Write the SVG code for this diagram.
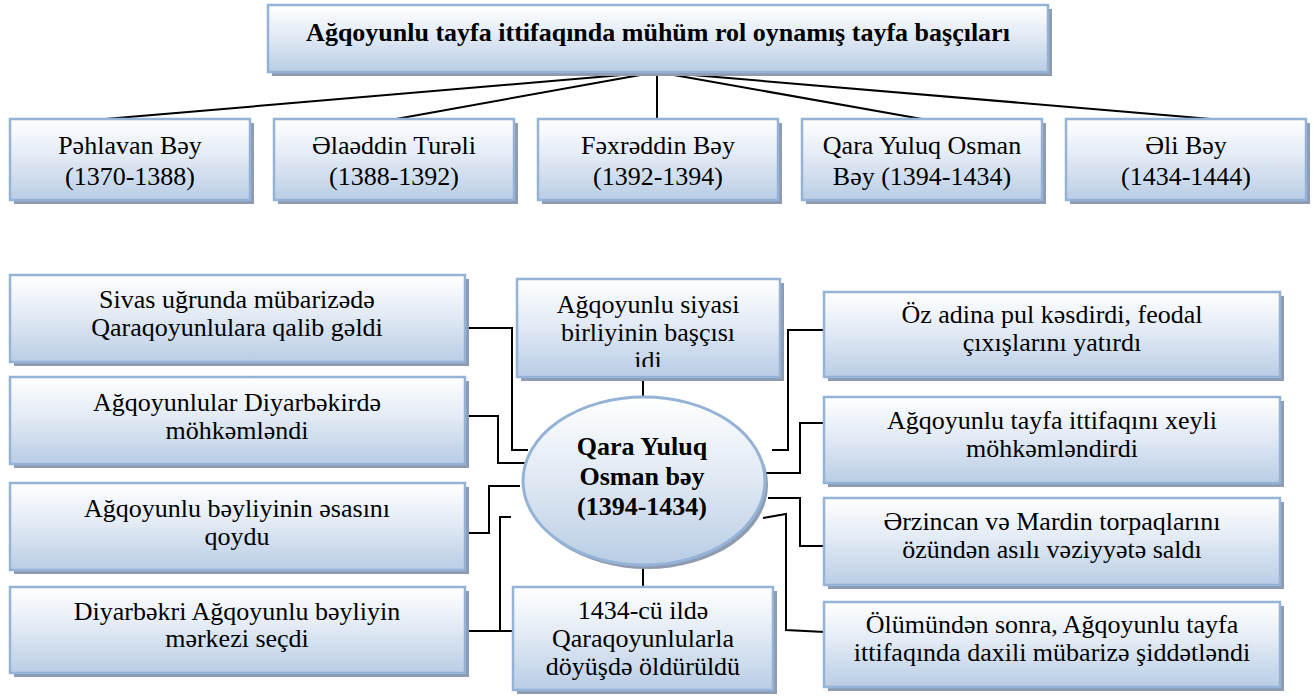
<svg xmlns="http://www.w3.org/2000/svg" width="1314" height="697" viewBox="0 0 1314 697" font-family="'Liberation Serif', 'Times New Roman', 'DejaVu Serif', serif">
<defs>
<linearGradient id="g" x1="0" y1="0" x2="0" y2="1">
<stop offset="0" stop-color="#ffffff"/>
<stop offset="0.45" stop-color="#e3ebf5"/>
<stop offset="1" stop-color="#b9cde5"/>
</linearGradient>
<linearGradient id="ge" x1="0" y1="0" x2="0" y2="1">
<stop offset="0" stop-color="#ffffff"/>
<stop offset="0.5" stop-color="#dfe8f3"/>
<stop offset="1" stop-color="#b9cde5"/>
</linearGradient>
<clipPath id="clipTop"><rect x="517" y="279" width="263" height="88"/></clipPath>
</defs>
<style>
.sh{fill:#8e9bb0}
.bx{fill:url(#g);stroke:#95b3d7;stroke-width:2.5}
.t{font-family:'Liberation Serif','Times New Roman','DejaVu Serif',serif;font-size:26px;fill:#000;text-anchor:middle}
.b{font-weight:bold}
.c{fill:none;stroke:#000;stroke-width:2}
</style>

<g id="connectors">
<line class="c" x1="657" y1="72" x2="105" y2="119"/>
<line class="c" x1="657" y1="72" x2="396" y2="119"/>
<line class="c" x1="657" y1="72" x2="657" y2="119"/>
<line class="c" x1="657" y1="72" x2="922" y2="119"/>
<line class="c" x1="657" y1="72" x2="1211" y2="119"/>
<polyline class="c" points="465,328 512,328 512,450 528,450"/>
<polyline class="c" points="465,416 498,416 498,463 525,463"/>
<polyline class="c" points="465,533 489,533 489,486 520,486"/>
<line class="c" x1="465" y1="631" x2="513" y2="631"/>
<polyline class="c" points="500,631 500,517 511,517"/>
<line class="c" x1="643" y1="377" x2="643" y2="397"/>
<line class="c" x1="643" y1="566" x2="643" y2="587"/>
<polyline class="c" points="772,450 788,450 788,330 825,330"/>
<polyline class="c" points="765,473 800,473 800,423 825,423"/>
<polyline class="c" points="768,498 800,498 800,546 825,546"/>
<polyline class="c" points="763,518 786,514 786,630 825,632"/>
</g>

<g id="title">
<rect class="sh" x="272" y="9" width="780" height="67"/>
<rect class="bx" x="268" y="5" width="780" height="67"/>
<text class="t b" x="658" y="41" font-size="26.5">Ağqoyunlu tayfa ittifaqında mühüm rol oynamış tayfa başçıları</text>
</g>

<g id="pehlavan">
<rect class="sh" x="14" y="123" width="240" height="81"/>
<rect class="bx" x="10" y="119" width="240" height="81"/>
<text class="t" x="130" y="154">Pəhlavan Bəy</text>
<text class="t" x="130" y="185">(1370-1388)</text>
</g>
<g id="elaeddin">
<rect class="sh" x="278" y="123" width="240" height="81"/>
<rect class="bx" x="274" y="119" width="240" height="81"/>
<text class="t" x="394" y="154">Əlaəddin Turəli</text>
<text class="t" x="394" y="185">(1388-1392)</text>
</g>
<g id="fexreddin">
<rect class="sh" x="542" y="123" width="240" height="81"/>
<rect class="bx" x="538" y="119" width="240" height="81"/>
<text class="t" x="658" y="154">Fəxrəddin Bəy</text>
<text class="t" x="658" y="185">(1392-1394)</text>
</g>
<g id="qarayuluq">
<rect class="sh" x="806" y="123" width="240" height="81"/>
<rect class="bx" x="802" y="119" width="240" height="81"/>
<text class="t" x="922" y="154">Qara Yuluq Osman</text>
<text class="t" x="922" y="185">Bəy (1394-1434)</text>
</g>
<g id="elibey">
<rect class="sh" x="1070" y="123" width="240" height="81"/>
<rect class="bx" x="1066" y="119" width="240" height="81"/>
<text class="t" x="1186" y="154">Əli Bəy</text>
<text class="t" x="1186" y="185">(1434-1444)</text>
</g>

<g id="left1">
<rect class="sh" x="14" y="279" width="455" height="87"/>
<rect class="bx" x="10" y="275" width="455" height="87"/>
<text class="t" x="237" y="308">Sivas uğrunda mübarizədə</text>
<text class="t" x="237" y="336">Qaraqoyunlulara qalib gəldi</text>
</g>
<g id="left2">
<rect class="sh" x="14" y="381" width="455" height="87"/>
<rect class="bx" x="10" y="377" width="455" height="87"/>
<text class="t" x="237" y="411">Ağqoyunlular Diyarbəkirdə</text>
<text class="t" x="237" y="439">möhkəmləndi</text>
</g>
<g id="left3">
<rect class="sh" x="14" y="487" width="455" height="87"/>
<rect class="bx" x="10" y="483" width="455" height="87"/>
<text class="t" x="237" y="517">Ağqoyunlu bəyliyinin əsasını</text>
<text class="t" x="237" y="545">qoydu</text>
</g>
<g id="left4">
<rect class="sh" x="14" y="591" width="455" height="86"/>
<rect class="bx" x="10" y="587" width="455" height="86"/>
<text class="t" x="237" y="620">Diyarbəkri Ağqoyunlu bəyliyin</text>
<text class="t" x="237" y="647">mərkezi seçdi</text>
</g>

<g id="centerTop">
<rect class="sh" x="521" y="283" width="263" height="98"/>
<rect class="bx" x="517" y="279" width="263" height="98"/>
<g clip-path="url(#clipTop)">
<text class="t" x="648" y="313">Ağqoyunlu siyasi</text>
<text class="t" x="648" y="341">birliyinin başçısı</text>
<text class="t" x="648" y="369">idi</text>
</g>
</g>

<g id="center">
<ellipse cx="647" cy="485" rx="121" ry="84" fill="#8e9bb0"/>
<ellipse cx="644" cy="481" rx="121" ry="84" fill="url(#ge)" stroke="#95b3d7" stroke-width="3"/>
<text class="t b" x="642" y="455" font-size="27">Qara Yuluq</text>
<text class="t b" x="642" y="485" font-size="27">Osman bəy</text>
<text class="t b" x="642" y="515" font-size="27">(1394-1434)</text>
</g>

<g id="centerBottom">
<rect class="sh" x="517" y="591" width="260" height="103"/>
<rect class="bx" x="513" y="587" width="260" height="103"/>
<text class="t" x="643" y="619">1434-cü ildə</text>
<text class="t" x="643" y="647">Qaraqoyunlularla</text>
<text class="t" x="643" y="675">döyüşdə öldürüldü</text>
</g>

<g id="right1">
<rect class="sh" x="828" y="296" width="456" height="85"/>
<rect class="bx" x="824" y="292" width="456" height="85"/>
<text class="t" x="1052" y="323">Öz adina pul kəsdirdi, feodal</text>
<text class="t" x="1052" y="351">çıxışlarını yatırdı</text>
</g>
<g id="right2">
<rect class="sh" x="828" y="401" width="456" height="86"/>
<rect class="bx" x="824" y="397" width="456" height="86"/>
<text class="t" x="1052" y="429">Ağqoyunlu tayfa ittifaqını xeyli</text>
<text class="t" x="1052" y="457">möhkəmləndirdi</text>
</g>
<g id="right3">
<rect class="sh" x="828" y="502" width="456" height="87"/>
<rect class="bx" x="824" y="498" width="456" height="87"/>
<text class="t" x="1052" y="530">Ərzincan və Mardin torpaqlarını</text>
<text class="t" x="1052" y="558">özündən asılı vəziyyətə saldı</text>
</g>
<g id="right4">
<rect class="sh" x="828" y="606" width="456" height="85"/>
<rect class="bx" x="824" y="602" width="456" height="85"/>
<text class="t" x="1052" y="633">Ölümündən sonra, Ağqoyunlu tayfa</text>
<text class="t" x="1052" y="661">ittifaqında daxili mübarizə şiddətləndi</text>
</g>
</svg>
